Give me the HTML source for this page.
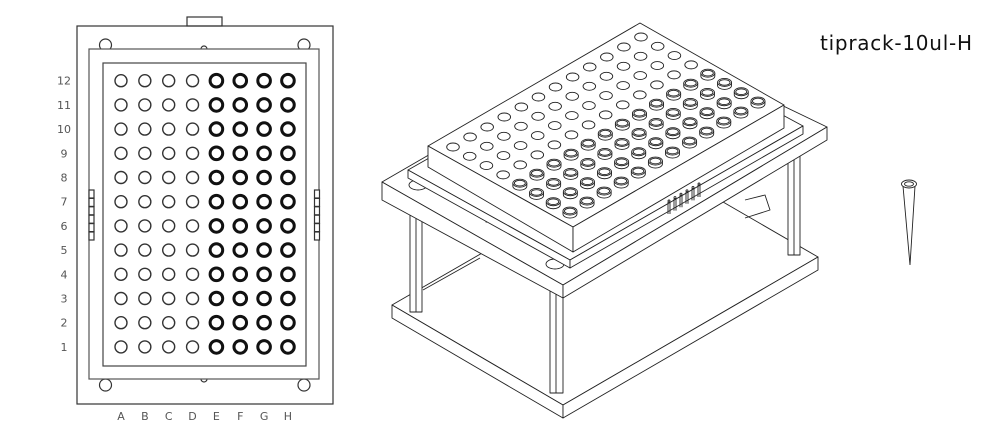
<!DOCTYPE html>
<html><head><meta charset="utf-8"><style>
html,body{margin:0;padding:0;background:#fff;width:1000px;height:445px;overflow:hidden}
svg{display:block}
</style></head><body>
<svg id="s" width="1000" height="445" viewBox="0 0 1000 445" xmlns="http://www.w3.org/2000/svg">
<text x="972" y="50" text-anchor="end" font-family="DejaVu Sans, Liberation Sans, sans-serif" font-size="20" textLength="152" fill="#111">tiprack-10ul-H</text>
<g id="topview" fill="none" stroke="#333" stroke-width="1.2">
<rect x="187" y="17" width="35" height="9" fill="#fff"/>
<rect x="77" y="26" width="256" height="378"/>
<circle cx="105.5" cy="45" r="6"/>
<circle cx="304" cy="45" r="6"/>
<circle cx="105.5" cy="385" r="6"/>
<circle cx="304" cy="385" r="6"/>
<circle cx="204" cy="49" r="3"/>
<circle cx="204" cy="379" r="3"/>
<rect x="89" y="49" width="230" height="330" fill="#fff" stroke="#555"/>
<rect x="103" y="63" width="203" height="303" stroke="#444"/>
</g>
<g id="g3d" fill="#fff" stroke="#222" stroke-width="0.9" stroke-linejoin="round">
<polygon points="392,305 647,158 818,257 563,405"/>
<polygon points="392,305 563,405 563,418 392,318"/>
<polygon points="563,405 818,257 818,270 563,418"/>
<polyline points="423,290 480,258" fill="none"/>
<polyline points="745,200 765,195 770,210 745,218" fill="none"/>
<rect x="410" y="205" width="12" height="107"/>
<line x1="416" y1="205" x2="416" y2="312"/>
<rect x="550" y="290" width="13" height="103"/>
<line x1="556" y1="290" x2="556" y2="393"/>
<rect x="788" y="150" width="12" height="105"/>
<line x1="794" y1="150" x2="794" y2="255"/>
<polygon points="382,182 636,35 827,127 563,285"/>
<polygon points="382,182 563,285 563,298 382,200"/>
<polygon points="563,285 827,127 827,140 563,298"/>
<ellipse cx="418" cy="185" rx="9" ry="5"/>
<ellipse cx="555" cy="264" rx="9" ry="5"/>
<rect x="486" y="218" width="5" height="4"/>
<polygon points="408,170 640,38 803,126 570,260"/>
<polygon points="408,170 570,260 570,268 408,178"/>
<polygon points="570,260 803,126 803,134 570,268"/>
<g id="pins"></g>
<polygon points="428,146 640,23 784,105 573,227"/>
<polygon points="428,146 573,227 573,252 428,167"/>
<polygon points="573,227 784,105 784,128 573,252"/>
<g id="w3d"></g>
</g>
<g fill="none" stroke="#222" stroke-width="0.9">
<polygon points="903,186 915,186 910,265" fill="#fff"/>
<ellipse cx="909" cy="184" rx="7.5" ry="4" fill="#fff"/>
<ellipse cx="909" cy="184" rx="4.5" ry="2.2"/>
</g>
<g id="labels" font-family="DejaVu Sans, Liberation Sans, sans-serif" font-size="11" fill="#555"></g>
</svg>
<script>
const cols=['A','B','C','D','E','F','G','H'];
const rows=[12,11,10,9,8,7,6,5,4,3,2,1];
const thickCols=['E','F','G','H'];
const NS='http://www.w3.org/2000/svg';
function mk(t,a,p){const e=document.createElementNS(NS,t);for(const k in a)e.setAttribute(k,a[k]);p.appendChild(e);return e;}
const topG=document.getElementById('topview'),lab=document.getElementById('labels');
const cx=i=>121+i*23.85, cy=j=>80.7+j*24.2;
for(let k=0;k<6;k++){
 const a=mk('rect',{x:89,y:190+k*8.4,width:5,height:8,fill:'#fff'},topG);
 
 
 const b=mk('rect',{x:314.5,y:190+k*8.4,width:5,height:8,fill:'#fff'},topG);
 
 
}
cols.forEach((c,i)=>{
 const thick=thickCols.includes(c);
 rows.forEach((r,j)=>{
  const e=mk('circle',{cx:cx(i),cy:cy(j),r:thick?6.3:6,'stroke-width':thick?3:1.4,stroke:thick?'#111':'#333'},topG);
  
  
 });
 const t=mk('text',{x:cx(i),y:420,'text-anchor':'middle'},lab);t.textContent=c;
 
 
});
rows.forEach((r,j)=>{
 const t=mk('text',{x:64,y:cy(j)+4,'text-anchor':'middle'},lab);t.textContent=r;
 
 
});
const w3=document.getElementById('w3d');
const ox=453,oy=147,ax=17.09,ay=-10,bx=16.71,by=9.29;
cols.forEach((c,i)=>{
 const thick=thickCols.includes(c);
 rows.forEach((r,j)=>{
  const k=11-j;
  const x=ox+k*ax+i*bx,y=oy+k*ay+i*by;
  if(thick){
   const g=mk('g',{},w3);
   
   
   mk('path',{d:`M${x-7},${y-1} L${x-7},${y+2} A7 4 0 0 0 ${x+7},${y+2} L${x+7},${y-1}`,fill:'#fff'},g);
   mk('ellipse',{cx:x,cy:y-1,rx:7,ry:4,fill:'#fff'},g);
   mk('ellipse',{cx:x,cy:y-1,rx:5.5,ry:2.8,fill:'none'},g);
  }else{
   const e=mk('ellipse',{cx:x,cy:y,rx:6.3,ry:4,fill:'#fff'},w3);
   
   
  }
 });
});
const pins=document.getElementById('pins');
for(let k=0;k<6;k++){
 const x=668+k*6,y=202-k*3.4;
 mk('line',{x1:x,y1:y,x2:x,y2:y+12},pins);
 mk('line',{x1:x+2,y1:y,x2:x+2,y2:y+12},pins);
 mk('circle',{cx:x+1,cy:y-1,r:1},pins);
}
</script>
</body></html>
